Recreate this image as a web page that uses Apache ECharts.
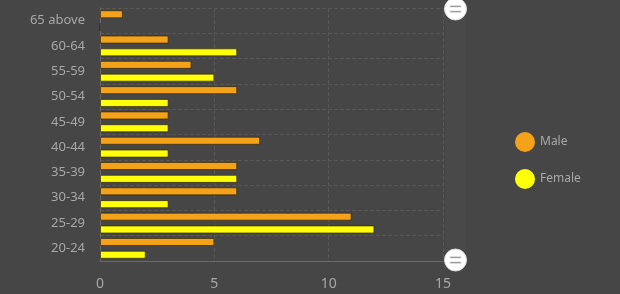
<!DOCTYPE html>
<html>
<head>
<meta charset="utf-8">
<script src="https://cdn.jsdelivr.net/npm/echarts@6/dist/echarts.min.js"></script>
<style>
html,body{margin:0;padding:0;background:#464646;}
#chart{width:620px;height:294px;}
</style>
</head>
<body>
<div id="chart"></div>
<script>
var ageGroups = ['20-24','25-29','30-34','35-39','40-44','45-49','50-54','55-59','60-64','65 above']
var male = [5, 11, 6, 6, 7, 3, 6, 4, 3, 1]
var female = [2, 12, 3, 6, 3, 3, 3, 5, 6, 0]
var xTicks = [0, 15, 5]  // min, max, interval

var labelColor = '#a8a8a8'
var chart = echarts.init(document.getElementById('chart'))
chart.setOption({
    backgroundColor: '#464646',
    textStyle: {fontFamily: 'Noto Sans'},
    legend: {
        orient: 'vertical',
        left: 510,
        top: 127,
        itemWidth: 20,
        itemHeight: 20,
        itemGap: 17,
        icon: 'circle',
        data: ['Male', 'Female'],
        itemStyle: {borderWidth: 0},
        textStyle: {color: labelColor, fontSize: 12}
    },
    grid: {left: 100, right: 177, top: 8, bottom: 33},
    xAxis: {
        type: 'value',
        min: xTicks[0],
        max: xTicks[1],
        interval: xTicks[2],
        axisLine: {show: true, lineStyle: {color: '#6a6a6a'}},
        axisTick: {show: false},
        axisLabel: {color: labelColor, fontSize: 14, margin: 16},
        splitLine: {lineStyle: {color: '#575757', type: 'dashed'}}
    },
    yAxis: {
        type: 'category',
        data: ageGroups,
        axisLine: {show: true, lineStyle: {color: '#6a6a6a'}},
        axisTick: {alignWithLabel: true, length: 4, lineStyle: {color: '#6a6a6a'}},
        axisLabel: {color: labelColor, fontSize: 13, margin: 15},
        splitLine: {show: true, lineStyle: {color: '#575757', type: 'dashed'}}
    },
    dataZoom: [{
        type: 'slider',
        yAxisIndex: 0,
        orient: 'vertical',
        left: 445,
        width: 20,
        top: 8,
        bottom: 33,
        start: 0,
        end: 100,
        showDetail: false,
        showDataShadow: false,
        brushSelect: false,
        moveHandleSize: 0,
        backgroundColor: 'transparent',
        borderColor: 'transparent',
        fillerColor: 'rgba(255,255,255,0.02)',
        handleIcon: 'path://M0,-10A10,10 0 1,1 0,10A10,10 0 1,1 0,-10Z M-3,-5L-3,5L-1.8,5L-1.8,-5Z M1.8,-5L1.8,5L3,5L3,-5Z',
        handleSize: '110%',
        handleStyle: {color: '#ffffff', borderColor: '#dddddd'}
    }],
    series: [
        {
            name: 'Male',
            type: 'bar',
            data: male,
            barWidth: 8,
            barGap: '60%',
            itemStyle: {color: '#f5a21b', borderColor: 'rgba(40,30,0,0.6)', borderWidth: 1}
        },
        {
            name: 'Female',
            type: 'bar',
            data: female,
            barWidth: 8,
            barGap: '60%',
            itemStyle: {color: '#ffff0a', borderColor: 'rgba(40,30,0,0.6)', borderWidth: 1}
        }
    ]
})
</script>
</body>
</html>
